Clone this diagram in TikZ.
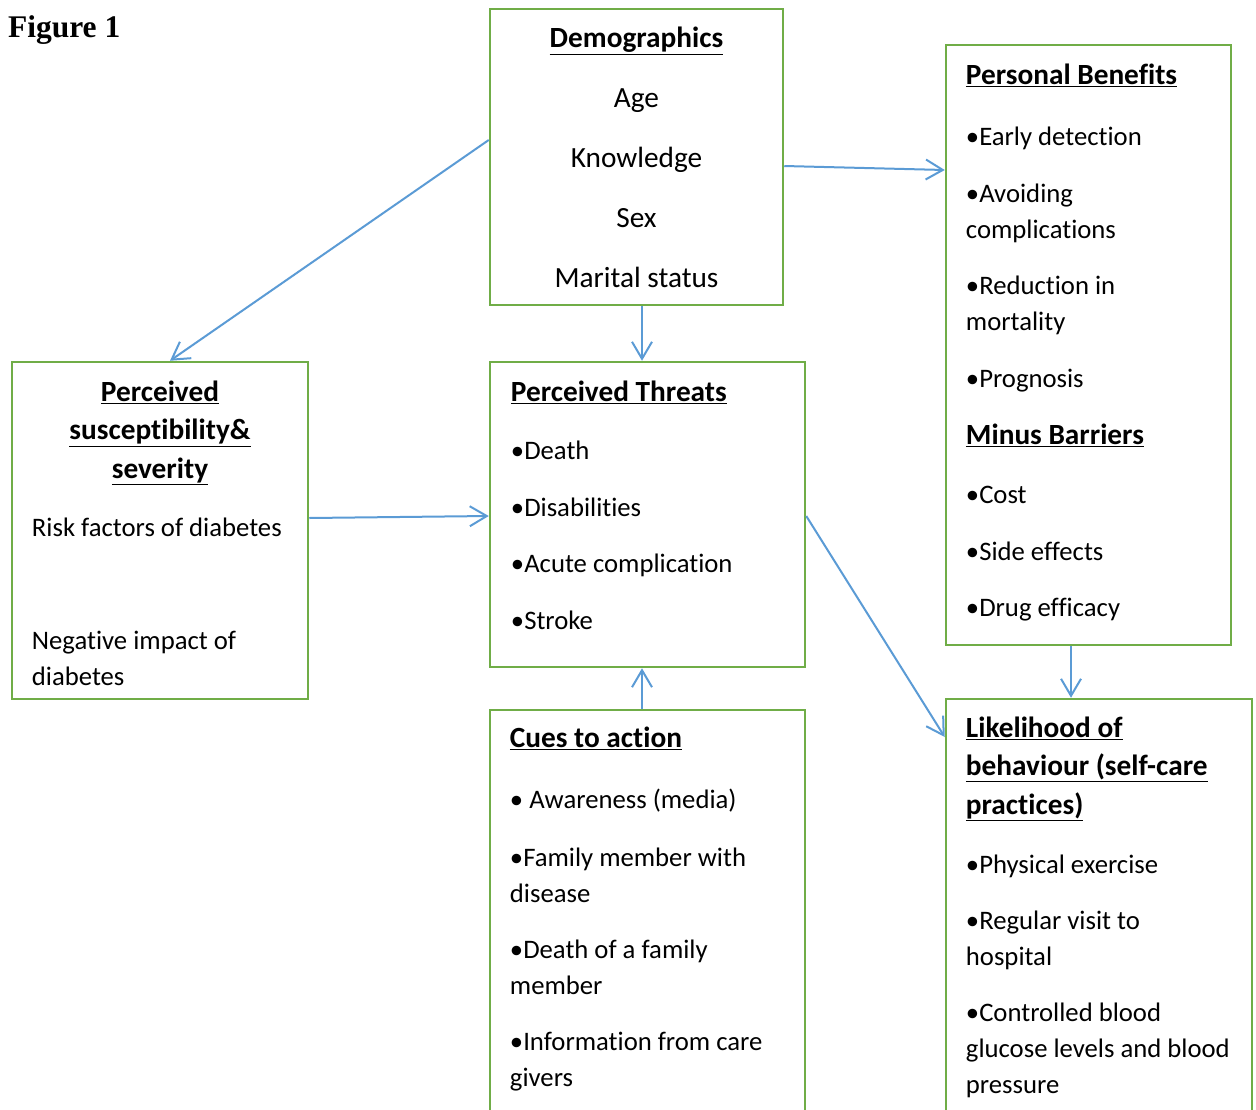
\documentclass[tikz,border=0pt]{standalone}
\usepackage{fontspec}
\setmainfont[Ligatures=NoCommon]{Carlito}
\newfontfamily\figfont{Liberation Serif}
\usetikzlibrary{arrows.meta}
\definecolor{boxgreen}{RGB}{112,173,71}
\definecolor{arrowblue}{RGB}{91,155,213}
\newcommand{\hd}[1]{{\fontsize{29.3}{38.5}\selectfont\underline{\textbf{#1}}}}

\begin{document}
\begin{tikzpicture}
[x=1pt,y=-1pt]
\tikzset{box/.style={draw=boxgreen,line width=2.5pt,inner sep=0pt}}
\tikzset{txt/.style={inner sep=0pt,font=\fontsize{26.7}{36}\selectfont,align=left}}
\tikzset{arr/.style={draw=arrowblue,line width=2pt,-{Straight Barb[length=17pt,width=20pt]}}}
\path[use as bounding box,clip] (0,0) rectangle (1256,1109);

\node [anchor=base west,font=\figfont\fontsize{31.5}{36}\selectfont\bfseries] (fig) at (4.5,37) {Figure 1};

\node [box,minimum width=293pt,minimum height=296pt] (demo) at (636.5,157) {};
\node [box,minimum width=285pt,minimum height=600pt] (ben) at (1088.5,345) {};
\node [box,minimum width=296pt,minimum height=337pt] (susc) at (160,530.5) {};
\node [box,minimum width=315pt,minimum height=305pt] (threat) at (647.5,514.5) {};
\node [box,minimum width=315pt,minimum height=420pt] (cues) at (647.5,920) {};
\node [box,minimum width=306pt,minimum height=431pt] (like) at (1099,914.5) {};

\node [txt,font=\fontsize{29.3}{36}\selectfont,align=center,anchor=north] (demotxt) at ([yshift=-14.3pt]demo.north)
  {\strut\hd{Demographics}\\[24pt] Age\\[24pt] Knowledge\\[24pt] Sex\\[24pt] Marital status};
\node [txt,anchor=north west] (bentxt) at ([xshift=21pt,yshift=-15.3pt]ben.north west)
  {\strut\hd{Personal Benefits}\\[25pt] •Early detection\\[21pt] •Avoiding\\ complications\\[20pt]
   •Reduction in\\ mortality\\[21pt] •Prognosis\\[21pt] \hd{Minus Barriers}\\[23pt]
   •Cost\\[21pt] •Side effects\\[20pt] •Drug efficacy};
\node [txt,align=center,anchor=north] (susctitle) at ([yshift=-15.3pt]susc.north)
  {\strut\hd{Perceived}\\[2.5pt] \hd{susceptibility\&}\\[2.5pt] \hd{severity}};
\node [txt,anchor=north west] (susctxt) at ([xshift=21pt,yshift=-150.3pt]susc.north west)
  {\strut Risk factors of diabetes\\[77pt] Negative impact of\\ diabetes};
\node [txt,anchor=north west] (threattxt) at ([xshift=22pt,yshift=-15.3pt]threat.north west)
  {\strut\hd{Perceived Threats}\\[22pt] •Death\\[21pt] •Disabilities\\[20pt]
   •Acute complication\\[21pt] •Stroke};
\node [txt,anchor=north west] (cuestxt) at ([xshift=21pt,yshift=-13.8pt]cues.north west)
  {\strut\hd{Cues to action}\\[25pt] • Awareness (media)\\[22pt] •Family member with\\ disease\\[20pt]
   •Death of a family\\ member\\[20pt] •Information from care\\ givers};
\node [txt,anchor=north west] (liketxt) at ([xshift=21pt,yshift=-14pt]like.north west)
  {\strut\hd{Likelihood of}\\[2.5pt] \hd{behaviour (self-care}\\[2.5pt] \hd{practices)}\\[23pt]
   •Physical exercise\\[20pt] •Regular visit to\\ hospital\\[20pt]
   •Controlled blood\\ glucose levels and blood\\ pressure};

\foreach \from/\sa/\to/\sb in {demo.west/{0pt,17pt}/susc.north/{10pt,0pt},
  demo.east/{0pt,-9pt}/ben.west/{0pt,175pt},
  demo.south/{5.5pt,0pt}/threat.north/{-5.5pt,0pt},
  susc.east/{0pt,12.5pt}/threat.west/{0pt,-1.5pt},
  threat.east/{0pt,-1.5pt}/like.west/{0pt,177.5pt},
  cues.north/{-5.5pt,0pt}/threat.south/{-5.5pt,0pt},
  ben.south/{-17.5pt,0pt}/like.north/{-28pt,0pt}}
	\draw [arr] ([shift={(\sa)}]\from) -- ([shift={(\sb)}]\to);

\end{tikzpicture}
\end{document}
